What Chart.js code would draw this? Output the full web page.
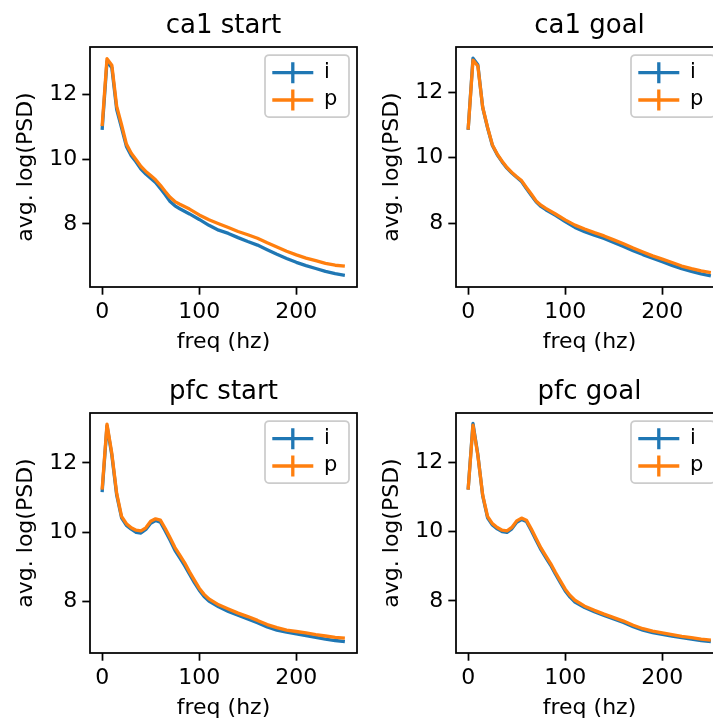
<!DOCTYPE html>
<html>
<head>
<meta charset="utf-8">
<script src="https://cdn.jsdelivr.net/npm/chart.js@4/dist/chart.umd.min.js"></script>
<style>
  html, body { margin: 0; padding: 0; width: 713px; height: 722px; overflow: hidden; background: #fff; }
  canvas { position: absolute; }
</style>
</head>
<body>
<canvas id="ca1Start" width="360" height="361" style="left:0px;top:0px;width:360px;height:361px"></canvas>
<canvas id="ca1Goal" width="360" height="361" style="left:366px;top:0px;width:360px;height:361px"></canvas>
<canvas id="pfcStart" width="360" height="361" style="left:0px;top:366px;width:360px;height:361px"></canvas>
<canvas id="pfcGoal" width="360" height="361" style="left:366px;top:366px;width:360px;height:361px"></canvas>
<script>
// Frequency grids (Hz)
const ca1Freq = [0, 5, 10, 15, 20, 25, 30, 35, 40, 45, 50, 55, 60, 65, 70, 75, 80,
                 90, 100, 110, 120, 130, 140, 150, 160, 170, 180, 190, 200, 210, 220, 230, 240, 250];
const pfcFreq = [0, 5, 10, 15, 20, 25, 30, 35, 40, 45, 50, 55, 60, 65, 70, 75, 80, 85, 90, 95, 100, 105, 110,
                 120, 130, 140, 150, 160, 170, 180, 190, 200, 210, 220, 230, 240, 250];

// Average log power spectral density, series "i" and "p"
const ca1StartI = [10.90, 13.01, 12.81, 11.52, 10.96, 10.39, 10.10, 9.91, 9.69, 9.54, 9.41, 9.28, 9.09, 8.90, 8.69, 8.56, 8.47,
                   8.31, 8.14, 7.96, 7.81, 7.71, 7.58, 7.46, 7.35, 7.21, 7.07, 6.94, 6.82, 6.72, 6.63, 6.54, 6.47, 6.42];
const ca1StartP = [11.01, 13.09, 12.89, 11.62, 11.06, 10.46, 10.18, 9.98, 9.77, 9.62, 9.49, 9.36, 9.19, 9.00, 8.82, 8.69, 8.61,
                   8.46, 8.28, 8.13, 8.01, 7.89, 7.77, 7.67, 7.56, 7.42, 7.29, 7.16, 7.05, 6.95, 6.87, 6.79, 6.73, 6.70];

const ca1GoalI = [10.85, 13.04, 12.84, 11.53, 10.91, 10.37, 10.09, 9.87, 9.68, 9.53, 9.40, 9.27, 9.06, 8.85, 8.65, 8.51, 8.41,
                  8.24, 8.05, 7.87, 7.74, 7.63, 7.53, 7.41, 7.29, 7.16, 7.04, 6.93, 6.82, 6.71, 6.61, 6.53, 6.45, 6.39];
const ca1GoalP = [10.86, 12.98, 12.80, 11.54, 10.93, 10.39, 10.11, 9.89, 9.70, 9.55, 9.42, 9.30, 9.09, 8.89, 8.68, 8.55, 8.45,
                  8.28, 8.10, 7.94, 7.82, 7.71, 7.61, 7.49, 7.37, 7.24, 7.12, 7.00, 6.90, 6.80, 6.69, 6.61, 6.54, 6.49];

const pfcStartI = [11.16, 13.07, 12.22, 11.07, 10.42, 10.20, 10.09, 10.00, 9.98, 10.08, 10.26, 10.34, 10.29, 10.04, 9.77, 9.48,
                   9.26, 9.04, 8.79, 8.55, 8.33, 8.15, 8.02,
                   7.85, 7.72, 7.61, 7.50, 7.39, 7.27, 7.18, 7.12, 7.07, 7.02, 6.97, 6.92, 6.88, 6.85];
const pfcStartP = [11.23, 13.12, 12.27, 11.12, 10.46, 10.25, 10.13, 10.06, 10.04, 10.13, 10.32, 10.39, 10.35, 10.11, 9.84, 9.56,
                   9.34, 9.12, 8.86, 8.62, 8.39, 8.21, 8.08,
                   7.91, 7.79, 7.67, 7.57, 7.46, 7.34, 7.25, 7.18, 7.14, 7.10, 7.05, 7.01, 6.97, 6.95];

const pfcGoalI = [11.21, 13.12, 12.22, 11.03, 10.40, 10.19, 10.08, 10.00, 9.98, 10.08, 10.27, 10.35, 10.29, 10.03, 9.75, 9.48,
                  9.25, 9.03, 8.77, 8.53, 8.29, 8.11, 7.97,
                  7.81, 7.69, 7.58, 7.48, 7.38, 7.26, 7.16, 7.09, 7.04, 6.99, 6.94, 6.90, 6.86, 6.83];
const pfcGoalP = [11.21, 13.07, 12.20, 11.05, 10.44, 10.23, 10.12, 10.04, 10.02, 10.12, 10.31, 10.39, 10.33, 10.08, 9.80, 9.53,
                  9.30, 9.08, 8.82, 8.58, 8.34, 8.16, 8.02,
                  7.85, 7.73, 7.62, 7.52, 7.42, 7.30, 7.20, 7.13, 7.08, 7.03, 6.98, 6.94, 6.90, 6.87];

// Axis ticks and labels
const xTicks = [0, 100, 200];
const yTicks = [8, 10, 12];
const xLabel = 'freq (hz)';
const yLabel = 'avg. log(PSD)';
const seriesNames = ['i', 'p'];
const seriesColors = ['#1f77b4', '#ff7f0e'];

const FONT = "'DejaVu Sans', sans-serif";
const TICK_W = 1.75;

// Black box around the plotting area
const axesFrame = {
  id: 'axesFrame',
  afterDatasetsDraw(chart) {
    const { ctx, chartArea: a } = chart;
    ctx.save();
    ctx.strokeStyle = '#000';
    ctx.lineWidth = TICK_W;
    ctx.strokeRect(a.left, a.top, a.right - a.left, a.bottom - a.top);
    ctx.restore();
  }
};

// Legend box in the upper-right corner, errorbar-style handles
const cornerLegend = {
  id: 'cornerLegend',
  afterDraw(chart) {
    const { ctx, chartArea: a } = chart;
    const w = 84, h = 62, r = 4;
    const x0 = a.right - 8 - w, y0 = a.top + 8;
    ctx.save();
    ctx.beginPath();
    ctx.moveTo(x0 + r, y0);
    ctx.lineTo(x0 + w - r, y0);
    ctx.arcTo(x0 + w, y0, x0 + w, y0 + r, r);
    ctx.lineTo(x0 + w, y0 + h - r);
    ctx.arcTo(x0 + w, y0 + h, x0 + w - r, y0 + h, r);
    ctx.lineTo(x0 + r, y0 + h);
    ctx.arcTo(x0, y0 + h, x0, y0 + h - r, r);
    ctx.lineTo(x0, y0 + r);
    ctx.arcTo(x0, y0, x0 + r, y0, r);
    ctx.closePath();
    ctx.fillStyle = 'rgba(255,255,255,0.8)';
    ctx.fill();
    ctx.strokeStyle = '#cccccc';
    ctx.lineWidth = 1.75;
    ctx.stroke();
    chart.data.datasets.forEach((ds, k) => {
      const cy = y0 + 17.7 + k * 27.3;
      ctx.strokeStyle = ds.borderColor;
      ctx.lineWidth = 3.3;
      ctx.lineCap = 'butt';
      ctx.beginPath();
      ctx.moveTo(x0 + 7.3, cy);
      ctx.lineTo(x0 + 48.3, cy);
      ctx.moveTo(x0 + 27.8, cy - 10.5);
      ctx.lineTo(x0 + 27.8, cy + 10.5);
      ctx.stroke();
      ctx.fillStyle = '#000';
      ctx.font = '21px ' + FONT;
      ctx.textBaseline = 'middle';
      ctx.textAlign = 'left';
      ctx.fillText(ds.label, x0 + 59, cy);
    });
    ctx.restore();
  }
};

function points(freq, vals) {
  return freq.map((f, k) => ({ x: f, y: vals[k] }));
}

function panel(id, title, freq, iVals, pVals, yMin, yMax) {
  const series = [iVals, pVals];
  new Chart(document.getElementById(id), {
    type: 'line',
    data: {
      datasets: series.map((vals, k) => ({
        label: seriesNames[k],
        data: points(freq, vals),
        borderColor: seriesColors[k],
        backgroundColor: seriesColors[k],
        borderWidth: 3.3,
        borderJoinStyle: 'round',
        pointRadius: 0,
        tension: 0,
        order: series.length - k
      }))
    },
    options: {
      responsive: false,
      animation: false,
      devicePixelRatio: 1,
      layout: { padding: { left: 0, right: 3, top: 0, bottom: 0 } },
      plugins: {
        legend: { display: false },
        tooltip: { enabled: false },
        title: {
          display: true,
          text: title,
          fullSize: false,
          color: '#000',
          font: { family: FONT, size: 26, weight: 'normal', lineHeight: 1.2 },
          padding: { top: 10.4, bottom: 5.4 }
        }
      },
      scales: {
        x: {
          type: 'linear',
          min: -12.5,
          max: 262.5,
          afterBuildTicks: s => { s.ticks = xTicks.map(v => ({ value: v })); },
          afterFit: s => { s.height = 74; },
          ticks: { color: '#000', font: { family: FONT, size: 22 }, padding: 4, maxRotation: 0 },
          grid: { display: true, drawOnChartArea: false, drawTicks: true, tickLength: 7.7, tickWidth: TICK_W, tickColor: '#000' },
          border: { display: false },
          title: { display: true, text: xLabel, color: '#000', font: { family: FONT, size: 22, lineHeight: 1.2 }, padding: { top: 0, bottom: 5.8 } }
        },
        y: {
          type: 'linear',
          min: yMin,
          max: yMax,
          afterBuildTicks: s => { s.ticks = yTicks.map(v => ({ value: v })); },
          afterFit: s => { s.width = 90; },
          ticks: { color: '#000', font: { family: FONT, size: 22 }, padding: 5 },
          grid: { display: true, drawOnChartArea: false, drawTicks: true, tickLength: 7.7, tickWidth: TICK_W, tickColor: '#000' },
          border: { display: false },
          title: { display: true, text: yLabel, color: '#000', font: { family: FONT, size: 22, lineHeight: 1.2 }, padding: { top: 12.8, bottom: 0 } }
        }
      }
    },
    plugins: [axesFrame, cornerLegend]
  });
}

panel('ca1Start', 'ca1 start', ca1Freq, ca1StartI, ca1StartP, 6.06, 13.45);
panel('ca1Goal', 'ca1 goal', ca1Freq, ca1GoalI, ca1GoalP, 6.05, 13.38);
panel('pfcStart', 'pfc start', pfcFreq, pfcStartI, pfcStartP, 6.52, 13.44);
panel('pfcGoal', 'pfc goal', pfcFreq, pfcGoalI, pfcGoalP, 6.50, 13.42);
</script>
</body>
</html>
